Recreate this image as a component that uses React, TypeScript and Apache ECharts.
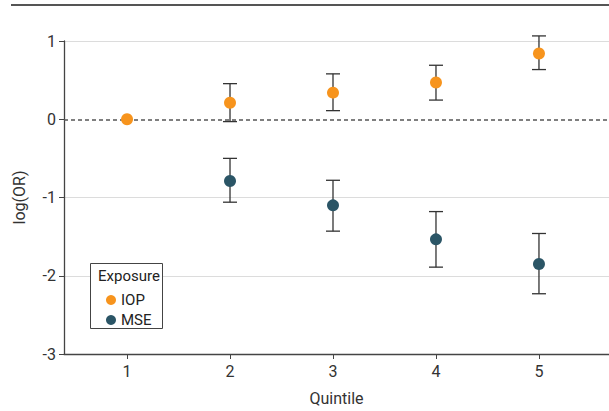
import React, { useEffect, useRef } from "react";
import * as echarts from "echarts";

const quintiles = [1, 2, 3, 4, 5];
const iopEstimate = [0, 0.21, 0.34, 0.47, 0.84];
const iopLower = [null, -0.03, 0.11, 0.245, 0.635];
const iopUpper = [null, 0.455, 0.58, 0.69, 1.065];
const mseEstimate = [null, -0.79, -1.1, -1.535, -1.85];
const mseLower = [null, -1.06, -1.43, -1.89, -2.23];
const mseUpper = [null, -0.5, -0.78, -1.18, -1.46];
const yTicks = [1, 0, -1, -2, -3];

const FONT = "'Liberation Sans Narrow', Roboto, sans-serif";

function buildPoints(est: (number | null)[]) {
  const out: number[][] = [];
  quintiles.forEach((q, i) => {
    if (est[i] !== null) out.push([q, est[i] as number]);
  });
  return out;
}
function buildBars(lo: (number | null)[], hi: (number | null)[]) {
  const out: number[][] = [];
  quintiles.forEach((q, i) => {
    if (lo[i] !== null && hi[i] !== null) out.push([q, lo[i] as number, hi[i] as number]);
  });
  return out;
}

const errorRender = (params: any, api: any) => {
  const x = api.value(0);
  const lo = api.coord([x, api.value(1)]);
  const hi = api.coord([x, api.value(2)]);
  const half = 7;
  const style = { stroke: "#333", lineWidth: 1.3 };
  return {
    type: "group",
    children: [
      { type: "line", shape: { x1: lo[0], y1: lo[1], x2: hi[0], y2: hi[1] }, style },
      { type: "line", shape: { x1: lo[0] - half, y1: lo[1], x2: lo[0] + half, y2: lo[1] }, style },
      { type: "line", shape: { x1: hi[0] - half, y1: hi[1], x2: hi[0] + half, y2: hi[1] }, style },
    ],
  };
};

export default function App() {
  const ref = useRef<HTMLDivElement>(null);
  useEffect(() => {
    if (!ref.current) return;
    const chart = echarts.init(ref.current, undefined, { renderer: "svg" });
    chart.setOption({
      animation: false,
      textStyle: { fontFamily: FONT },
      grid: { left: 64, right: 0, top: 41, bottom: 54, containLabel: false },
      xAxis: {
        type: "value",
        min: 0.388,
        max: 5.68,
        name: "Quintile",
        nameLocation: "middle",
        nameGap: 36,
        nameTextStyle: { fontSize: 16, color: "#333", fontFamily: FONT },
        axisLine: { show: true, onZero: false, lineStyle: { color: "#444", width: 1.3 } },
        axisTick: { show: true, customValues: quintiles, length: 5, lineStyle: { color: "#444" } },
        axisLabel: { customValues: quintiles, fontSize: 16, color: "#333", margin: 9, fontFamily: FONT },
        splitLine: { show: false },
      },
      yAxis: {
        type: "value",
        min: -3,
        max: 1,
        interval: 1,
        name: "log(OR)",
        nameLocation: "middle",
        nameRotate: 90,
        nameGap: 37,
        nameTextStyle: { fontSize: 16, color: "#333", fontFamily: FONT },
        axisLine: { show: true, onZero: false, lineStyle: { color: "#444", width: 1.3 } },
        axisTick: { show: true, length: 5, lineStyle: { color: "#444" } },
        axisLabel: {
          fontSize: 16,
          color: "#333",
          margin: 8,
          fontFamily: FONT,
          formatter: (v: number) => (yTicks.includes(v) ? String(v) : ""),
        },
        splitLine: {
          show: true,
          lineStyle: {
            color: ["#ffffff", "#dcdcdc", "#dcdcdc", "rgba(0,0,0,0)", "#dcdcdc"],
            width: 1,
          },
        },
      },
      legend: {
        orient: "vertical",
        left: 101,
        top: 287,
        itemGap: 4,
        itemWidth: 10,
        itemHeight: 10,
        icon: "circle",
        z: 10,
        textStyle: { fontSize: 15, lineHeight: 16, color: "#222", fontFamily: FONT },
        data: ["IOP", "MSE"],
      },
      graphic: [
        {
          type: "line",
          shape: { x1: 11, y1: 5, x2: 609, y2: 5 },
          style: { stroke: "#555", lineWidth: 2 },
        },
        {
          type: "rect",
          shape: { x: 90.5, y: 263.5, width: 72, height: 65 },
          style: { fill: "#fff", stroke: "#444", lineWidth: 1 },
          z: 5,
        },
        {
          type: "text",
          x: 98,
          y: 268,
          style: { text: "Exposure", fontSize: 15, fill: "#222", fontFamily: FONT, verticalAlign: "top" },
          z: 6,
        },
      ],
      series: [
        {
          type: "custom",
          name: "IOP CI",
          renderItem: errorRender,
          data: buildBars(iopLower, iopUpper),
          z: 3,
          silent: true,
        },
        {
          type: "custom",
          name: "MSE CI",
          renderItem: errorRender,
          data: buildBars(mseLower, mseUpper),
          z: 3,
          silent: true,
        },
        {
          type: "scatter",
          name: "IOP",
          data: buildPoints(iopEstimate),
          symbol: "circle",
          symbolSize: 12,
          itemStyle: { color: "#F7941D", opacity: 1 },
          z: 4,
          markLine: {
            silent: true,
            symbol: "none",
            label: { show: false },
            lineStyle: { color: "#555", type: [4, 3], width: 1.5 },
            data: [{ yAxis: 0 }],
            z: 2,
          },
        },
        {
          type: "scatter",
          name: "MSE",
          data: buildPoints(mseEstimate),
          symbol: "circle",
          symbolSize: 12,
          itemStyle: { color: "#2B5566", opacity: 1 },
          z: 4,
        },
      ],
    });
    return () => chart.dispose();
  }, []);
  return (
    <div
      ref={ref}
      style={{ position: "absolute", left: 0, top: 0, width: 609, height: 411 }}
    />
  );
}
